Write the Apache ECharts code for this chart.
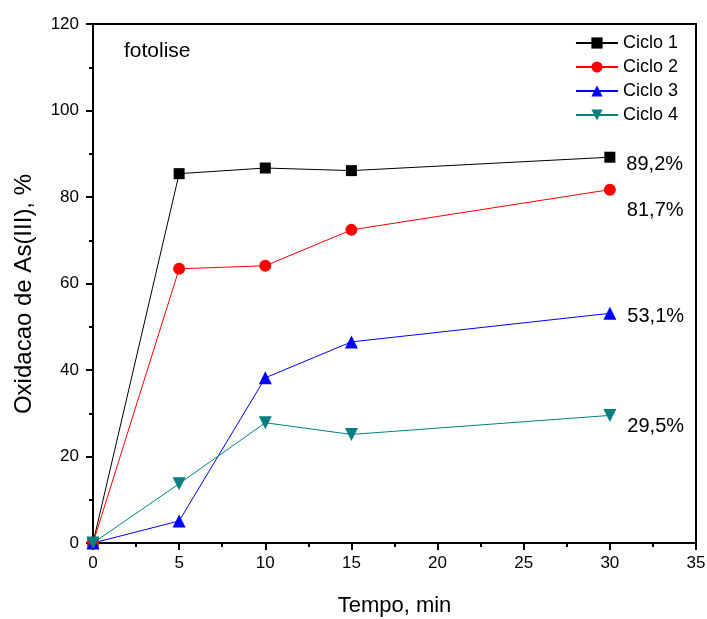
<!DOCTYPE html>
<html>
<head>
<meta charset="utf-8">
<script src="https://cdn.jsdelivr.net/npm/echarts@6/dist/echarts.min.js"></script>
<style>html,body{margin:0;padding:0;background:#fff}#c{width:707px;height:619px}</style>
</head>
<body>
<div id="c"></div>
<script>
const tempo = [0, 5, 10, 15, 30];
const ciclo1 = [0, 85.4, 86.7, 86.1, 89.2];
const ciclo2 = [0, 63.4, 64.1, 72.4, 81.7];
const ciclo3 = [0, 5.1, 38.2, 46.5, 53.1];
const ciclo4 = [0, 13.7, 27.8, 25.1, 29.5];
const names = ['Ciclo 1', 'Ciclo 2', 'Ciclo 3', 'Ciclo 4'];
const endLabels = ['89,2%', '81,7%', '53,1%', '29,5%'];
const xTicks = [0, 5, 10, 15, 20, 25, 30, 35];
const yTicks = [0, 20, 40, 60, 80, 100, 120];

const font = 'Liberation Sans, Arial, sans-serif';
const colors = ['#000000', '#ff0000', '#0000ff', '#008080'];
const symbols = ['rect', 'circle', 'triangle', 'path://M0,0 L10,0 L5,9 Z'];
const sizes = [11, 12, 13, 13];
const labelOffsets = [[0, 7], [0, 21], [0, 3], [0, 11]];
const allSeries = [ciclo1, ciclo2, ciclo3, ciclo4];

const chart = echarts.init(document.getElementById('c'));
chart.setOption({
  animation: false,
  textStyle: { fontFamily: font },
  grid: { left: 93, right: 11, top: 24, bottom: 76, outerBoundsMode: 'none', containLabel: false, show: true, borderColor: '#000', borderWidth: 2, backgroundColor: 'transparent' },
  legend: {
    right: 24, top: 29, orient: 'vertical', itemGap: 6, itemWidth: 42, itemHeight: 14,
    textStyle: { fontSize: 18, color: '#000', fontFamily: font },
    data: names
  },
  graphic: [
    { type: 'text', left: 124, top: 41, style: { text: 'fotolise', fontSize: 21, fill: '#000', fontFamily: font } },
    { type: 'text', x: 24, y: 294, rotation: Math.PI / 2, style: { text: 'Oxidacao de As(III), %', fontSize: 24, fill: '#000', fontFamily: font, align: 'center', verticalAlign: 'middle' } }
  ],
  xAxis: {
    type: 'value', min: 0, max: 35, interval: 5,
    name: 'Tempo, min', nameLocation: 'middle', nameGap: 52,
    nameTextStyle: { fontSize: 22, color: '#000', fontFamily: font },
    axisLine: { lineStyle: { color: '#000', width: 2 } },
    axisTick: { show: true, inside: false, length: 7, lineStyle: { color: '#000', width: 2 } },
    minorTick: { show: true, splitNumber: 2, length: 4, lineStyle: { color: '#000', width: 2 } },
    axisLabel: { fontSize: 17, color: '#000', margin: 12, formatter: v => xTicks.includes(v) ? String(v) : '' },
    splitLine: { show: false }
  },
  yAxis: {
    type: 'value', min: 0, max: 120, interval: 20,
    axisLine: { lineStyle: { color: '#000', width: 2 } },
    axisTick: { show: true, inside: false, length: 7, lineStyle: { color: '#000', width: 2 } },
    minorTick: { show: true, splitNumber: 2, length: 4, lineStyle: { color: '#000', width: 2 } },
    axisLabel: { fontSize: 17, color: '#000', margin: 14, formatter: v => yTicks.includes(v) ? String(v) : '' },
    splitLine: { show: false }
  },
  series: allSeries.map((vals, i) => ({
    type: 'line', name: names[i],
    symbol: symbols[i], symbolSize: sizes[i],
    itemStyle: { color: colors[i] },
    lineStyle: { color: colors[i], width: 1 },
    data: vals.map((v, j) => {
      const d = { value: [tempo[j], v] };
      if (j === vals.length - 1) {
        d.label = { show: true, position: 'right', distance: 11, offset: labelOffsets[i], formatter: endLabels[i], fontSize: 20, color: '#000', fontFamily: font };
      }
      return d;
    })
  }))
});
</script>
</body>
</html>
